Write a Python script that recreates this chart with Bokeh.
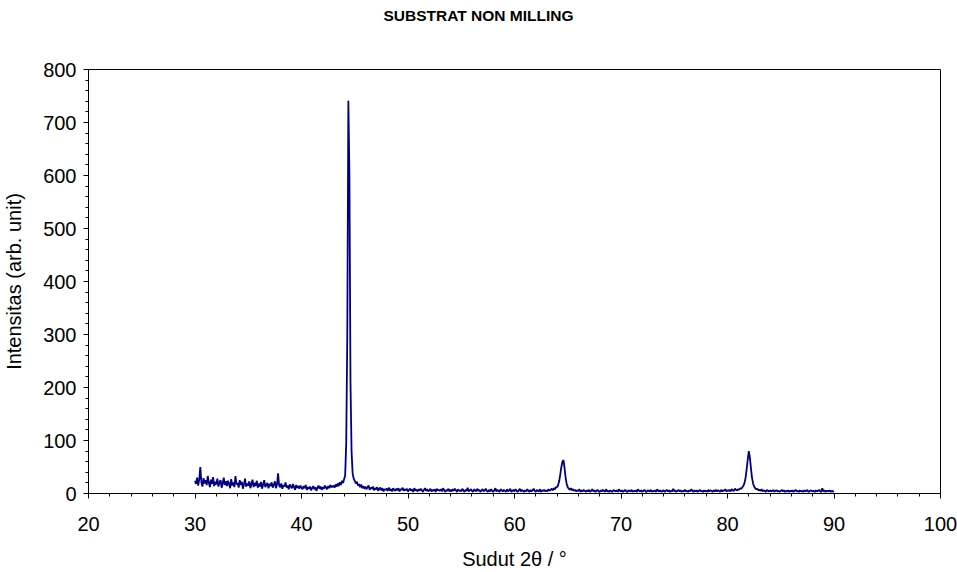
from bokeh.plotting import figure
from bokeh.layouts import column
from bokeh.models import Div, SingleIntervalTicker
from bokeh.embed import file_html
from bokeh.resources import INLINE

# pola XRD, langkah 0.1 derajat dari 30 sampai 90
sudut_awal = 30.0
langkah = 0.1
intensitas = [
    24, 18, 30, 15, 27, 50, 21, 13, 29, 19,   # 30
    25, 16, 33, 20, 12, 26, 18, 31, 14, 22,   # 31
    17, 28, 13, 21, 25, 11, 19, 30, 16, 23,   # 32
    14, 24, 18, 10, 27, 15, 21, 12, 33, 17,   # 33
    20, 11, 25, 16, 22, 9, 18, 28, 13, 19,    # 34
    15, 23, 10, 18, 26, 12, 20, 14, 24, 11,   # 35
    19, 13, 22, 9, 17, 25, 12, 16, 20, 10,    # 36
    18, 14, 21, 11, 16, 23, 10, 17, 38, 15,   # 37
    12, 19, 9, 16, 13, 21, 11, 15, 8, 17,     # 38
    13, 10, 18, 12, 7, 16, 11, 14, 9, 15,     # 39
    11, 8, 14, 10, 16, 7, 12, 9, 13, 6,       # 40
    10, 14, 8, 12, 5, 11, 15, 9, 13, 7,       # 41
    12, 9, 15, 11, 8, 14, 10, 16, 12, 13,     # 42
    15, 11, 17, 13, 19, 14, 21, 16, 24, 20,   # 43
    27, 34, 95, 300, 741, 600, 210, 80, 38, 28,  # 44
    24, 19, 22, 15, 18, 12, 17, 10, 14, 9,    # 45
    13, 8, 12, 15, 7, 11, 9, 13, 6, 10,       # 46
    8, 12, 5, 9, 11, 6, 10, 4, 8, 7,          # 47
    9, 5, 11, 6, 8, 4, 10, 7, 5, 9,           # 48
    6, 10, 4, 8, 7, 11, 5, 8, 6, 9,           # 49
    4, 7, 9, 5, 8, 3, 10, 6, 7, 4,            # 50
    8, 5, 9, 6, 3, 7, 10, 5, 8, 4,            # 51
    6, 9, 4, 7, 5, 8, 3, 9, 6, 7,             # 52
    5, 8, 4, 10, 6, 3, 7, 5, 9, 4,            # 53
    7, 4, 8, 5, 9, 6, 3, 8, 5, 6,             # 54
    4, 9, 6, 3, 7, 5, 11, 4, 6, 8,            # 55
    5, 3, 8, 6, 4, 9, 5, 7, 3, 6,             # 56
    8, 4, 6, 9, 5, 3, 7, 4, 8, 5,             # 57
    3, 6, 10, 4, 7, 5, 3, 8, 6, 4,            # 58
    7, 5, 3, 8, 4, 6, 9, 3, 5, 7,             # 59
    4, 8, 5, 3, 6, 9, 4, 7, 5, 3,             # 60
    6, 4, 8, 5, 3, 7, 4, 6, 9, 5,             # 61
    3, 7, 5, 4, 8, 3, 6, 5, 7, 4,             # 62
    6, 4, 8, 5, 7, 9, 6, 10, 8, 12,           # 63
    12, 16, 24, 36, 50, 60, 63, 48, 30, 18,   # 64
    12, 9, 7, 10, 6, 8, 5, 7, 4, 6,           # 65
    5, 8, 3, 6, 4, 7, 5, 3, 6, 4,             # 66
    7, 3, 5, 8, 4, 6, 3, 5, 7, 4,             # 67
    3, 6, 4, 7, 5, 3, 8, 4, 5, 3,             # 68
    6, 4, 3, 7, 5, 4, 6, 3, 8, 5,             # 69
    4, 6, 3, 5, 7, 4, 3, 6, 5, 4,             # 70
    7, 3, 5, 4, 6, 3, 8, 5, 4, 6,             # 71
    3, 5, 7, 4, 3, 6, 5, 4, 7, 3,             # 72
    5, 4, 6, 3, 8, 5, 4, 6, 3, 5,             # 73
    6, 3, 5, 7, 4, 6, 3, 5, 4, 9,             # 74
    4, 6, 3, 5, 7, 4, 6, 3, 5, 4,             # 75
    7, 4, 5, 3, 6, 4, 8, 5, 3, 6,             # 76
    4, 6, 3, 5, 7, 4, 5, 3, 6, 4,             # 77
    5, 3, 7, 4, 6, 5, 3, 6, 4, 7,             # 78
    4, 6, 5, 3, 7, 4, 6, 5, 8, 4,             # 79
    6, 5, 7, 4, 8, 6, 5, 9, 7, 6,             # 80
    8, 7, 10, 9, 12, 15, 20, 30, 46, 64,      # 81
    80, 68, 48, 30, 19, 13, 10, 8, 9, 6,      # 82
    7, 5, 8, 4, 6, 5, 3, 7, 5, 4,             # 83
    6, 4, 5, 7, 3, 5, 6, 4, 5, 3,             # 84
    5, 7, 4, 6, 3, 5, 4, 6, 3, 5,             # 85
    4, 6, 3, 5, 7, 4, 5, 3, 6, 4,             # 86
    5, 3, 6, 4, 5, 7, 3, 4, 6, 5,             # 87
    4, 5, 3, 6, 4, 5, 7, 4, 3, 10,            # 88
    4, 6, 3, 5, 5, 4, 6, 3, 5, 4,             # 89
    3,                                        # 90
]
sudut = [round(sudut_awal + langkah * i, 1) for i in range(len(intensitas))]

judul = "SUBSTRAT NON MILLING"
label_x = "Sudut 2θ / °"
label_y = "Intensitas (arb. unit)"

FONT = "Liberation Sans"

div = Div(text=judul, width=957, height=31, margin=0,
          styles={"font-family": FONT, "font-size": "15.5px", "font-weight": "bold",
                  "text-align": "center", "line-height": "31px", "width": "957px",
                  "color": "black"})

p = figure(width=957, height=541, x_range=(20, 100), y_range=(0, 800),
           output_backend="svg", toolbar_location=None, tools="",
           min_border_left=88, min_border_right=17, min_border_top=38,
           min_border_bottom=79)
p.line(sudut, intensitas, line_color="#000080", line_width=1.8)

p.xgrid.grid_line_color = None
p.ygrid.grid_line_color = None
p.outline_line_color = "black"
p.outline_line_alpha = 1
p.background_fill_color = "white"

p.xaxis.ticker = SingleIntervalTicker(interval=10, num_minor_ticks=5)
p.yaxis.ticker = SingleIntervalTicker(interval=100, num_minor_ticks=5)

for ax in (p.xaxis, p.yaxis):
    ax.axis_line_color = "black"
    ax.major_tick_line_color = "black"
    ax.minor_tick_line_color = "black"
    ax.major_tick_in = 0
    ax.major_tick_out = 5
    ax.minor_tick_in = 0
    ax.minor_tick_out = 3
    ax.major_label_text_font = FONT
    ax.major_label_text_font_size = "20px"
    ax.major_label_text_color = "black"
    ax.axis_label_text_font = FONT
    ax.axis_label_text_font_size = "20px"
    ax.axis_label_text_font_style = "normal"
    ax.axis_label_text_color = "black"

p.xaxis.axis_label = label_x
p.yaxis.axis_label = label_y
p.xaxis.major_label_standoff = 18
p.xaxis.axis_label_standoff = 14
p.yaxis.major_label_standoff = 7
p.yaxis.axis_label_standoff = 15

layout = column(div, p, spacing=0)
open("out.html", "w").write(file_html(layout, INLINE))
